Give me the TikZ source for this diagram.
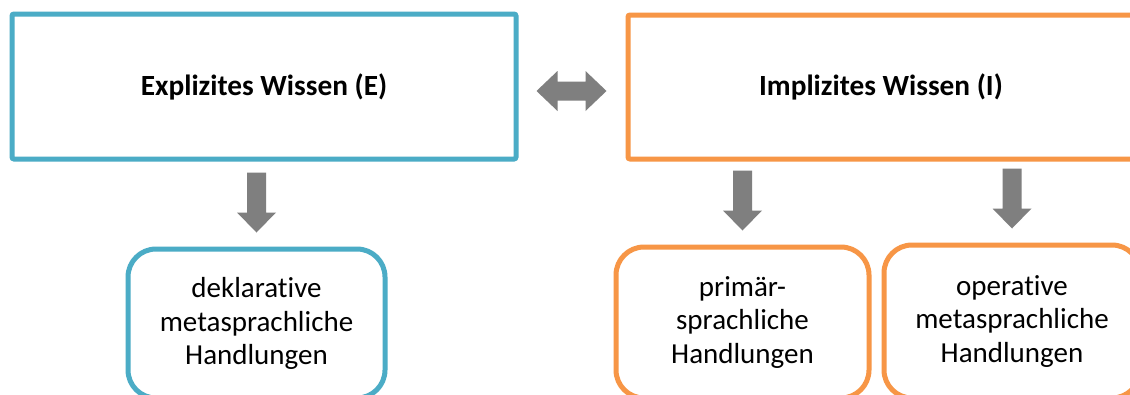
\documentclass[tikz,border=0pt]{standalone}
\usepackage{fontspec}
\setmainfont{Carlito}[Ligatures={NoCommon}]
\usetikzlibrary{calc}
\definecolor{eblue}{HTML}{4BACC6}
\definecolor{iorange}{HTML}{F79646}
\definecolor{agray}{HTML}{7F7F7F}
\tikzset{
  topbox/.style={draw, line width=5pt, rounded corners=2pt, inner sep=0pt,
    font=\fontsize{29.3}{34}\selectfont\bfseries},
  subbox/.style={draw, line width=5pt, rounded corners=28pt, inner sep=0pt,
    align=center, font=\fontsize{29}{33.5}\selectfont},
  arrowfill/.style={fill=agray, draw=none}
}
\begin{document}
\begin{tikzpicture}[x=1pt, y=-1pt]
\useasboundingbox (0,0) rectangle (1130,394);
\fill[white] (0,0) rectangle (1130,394);
\clip (0,0) rectangle (1130,394);

\node[topbox, draw=eblue, minimum width=504pt, minimum height=145pt] (E) at (264,86.5) {Explizites Wissen (E)};
\node[topbox, draw=iorange, minimum width=506pt, minimum height=144pt] (I) at (881,87) {Implizites Wissen (I)};

\node[subbox, draw=eblue, minimum width=257pt, minimum height=149pt] (dek) at (256.5,323.5) {deklarative\\metasprachliche\\Handlungen};
\node[subbox, draw=iorange, minimum width=253pt, minimum height=151pt] (prim) at (742.5,322.5) {primär-\\sprachliche\\Handlungen};
\node[subbox, draw=iorange, minimum width=256pt, minimum height=153pt] (oper) at (1012,321.5) {operative\\metasprachliche\\Handlungen};

% double arrow between E and I
\coordinate (dL) at ($(E.east)+(18,4.5)$);
\coordinate (dR) at ($(I.west)+(-19,4)$);
\fill[arrowfill] (dL) -- ++(21,-20) -- ++(0,10.5) -- ($(dR)+(-21,-9.5)$) -- ++(0,-10.5) -- (dR)
  -- ++(-21,20) -- ++(0,-10.5) -- ($(dL)+(21,9.5)$) -- ++(0,10.5) -- cycle;

% down arrows
\foreach \b in {dek,prim,oper} {
  \fill[arrowfill] ($(\b.north)+(0,-14)$) -- ++(-19.5,-20) -- ++(10,0) -- ++(0,-40)
    -- ++(19,0) -- ++(0,40) -- ++(10,0) -- cycle;
}
\end{tikzpicture}
\end{document}
